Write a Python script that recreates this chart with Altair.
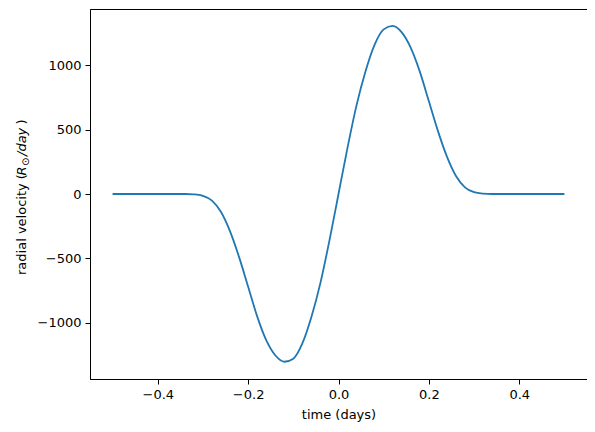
import altair as alt
import pandas as pd

# time (days) and radial velocity (R_sun/day)
time_days = [-0.50, -0.46, -0.42, -0.38, -0.34, -0.32, -0.30, -0.28, -0.26, -0.24,
             -0.22, -0.20, -0.18, -0.16, -0.14, -0.12, -0.10, -0.08, -0.06, -0.04,
             -0.02, 0.00, 0.02, 0.04, 0.06, 0.08, 0.10, 0.12, 0.14, 0.16,
             0.18, 0.20, 0.22, 0.24, 0.26, 0.28, 0.30, 0.32, 0.34, 0.38,
             0.42, 0.46, 0.50]
radial_velocity = [0, 0, 0, 0, 0, -3, -14, -52, -140, -290,
                   -490, -720, -950, -1135, -1252, -1302, -1278, -1160, -955, -690,
                   -360, 0, 360, 690, 955, 1160, 1278, 1305, 1255, 1135,
                   950, 720, 490, 290, 140, 52, 14, 3, 0, 0,
                   0, 0, 0]

x_ticks = [-0.4, -0.2, 0.0, 0.2, 0.4]
y_ticks = [-1000, -500, 0, 500, 1000]

# y-axis title pieces (mathtext-like: italic R with a subscript sun symbol, italic day)
title_plain = "radial velocity ("
title_r = "R"
title_sun = "⊙"
title_day = "/day"
title_close = ")"

df = pd.DataFrame({"t": time_days, "v": radial_velocity})

FONT = "DejaVu Sans"

line = alt.Chart(df).mark_line(
    color="#1f77b4", strokeWidth=1.8, interpolate="monotone"
).encode(
    x=alt.X("t:Q",
            scale=alt.Scale(domain=[-0.55, 0.55], nice=False, zero=False),
            axis=alt.Axis(values=x_ticks, format=".1f", title="time (days)",
                          titlePadding=7)),
    y=alt.Y("v:Q",
            scale=alt.Scale(domain=[-1436, 1436], nice=False, zero=False),
            axis=alt.Axis(values=y_ticks, format="d", title=None)),
)


def title_piece(txt, y_start, italic=False, size=13, x_base=-64.5):
    return alt.Chart(pd.DataFrame({"s": [txt]})).mark_text(
        angle=270, align="left", baseline="alphabetic",
        font=FONT, fontSize=size, color="black",
        fontStyle="italic" if italic else "normal",
    ).encode(text="s:N", x=alt.value(x_base), y=alt.value(y_start))


chart = alt.layer(
    line,
    title_piece(title_plain, 266),
    title_piece(title_r, 166.5, italic=True),
    title_piece(title_sun, 157, size=10, x_base=-61.5),
    title_piece(title_day, 147, italic=True),
    title_piece(title_close, 115.5),
).properties(
    width=497,
    height=370,
    autosize=alt.AutoSizeParams(type="none"),
    padding={"left": 82, "top": 1, "right": 0, "bottom": 50},
).configure_view(
    stroke="black", strokeWidth=1
).configure_axis(
    grid=False,
    labelFont=FONT, labelFontSize=13, labelColor="black",
    titleFont=FONT, titleFontSize=13, titleColor="black", titleFontWeight="normal",
    tickColor="black", tickSize=5, tickWidth=1,
    domainColor="black", domainWidth=1, labelPadding=4,
)

chart.save("out.html", embed_options={"renderer": "svg", "actions": False})
